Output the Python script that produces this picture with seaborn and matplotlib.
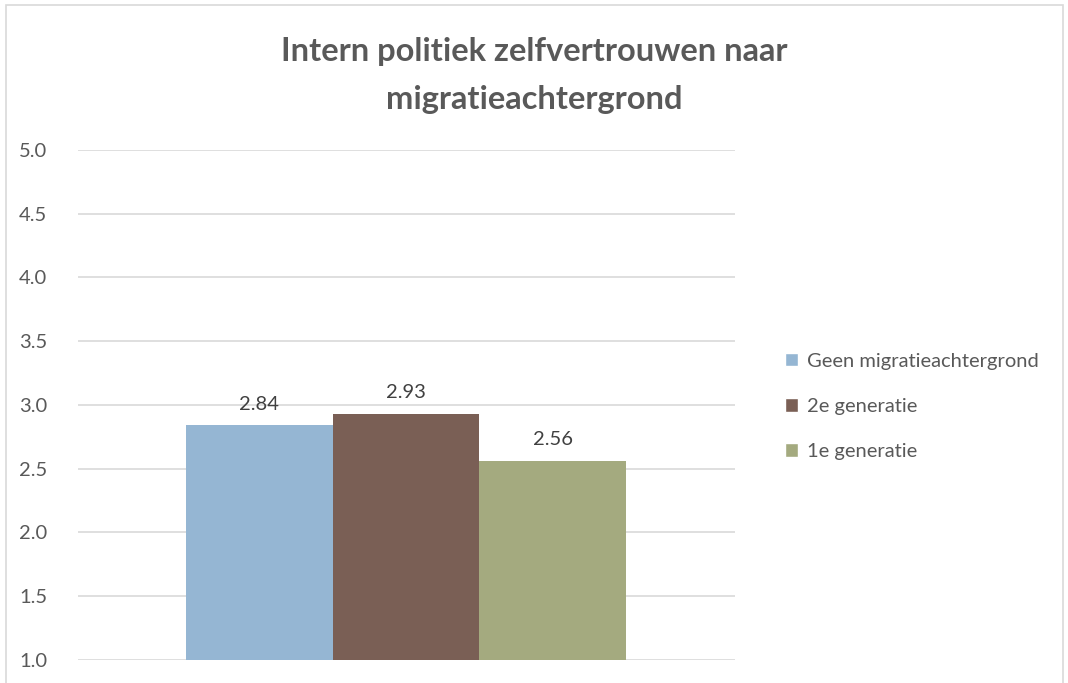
import pandas as pd
import matplotlib.pyplot as plt
import seaborn as sns
from matplotlib.patches import Rectangle

groups = ["Geen migratieachtergrond", "2e generatie", "1e generatie"]
scores = [2.84, 2.93, 2.56]
colors = ["#95b6d3", "#7a5f55", "#a4aa7f"]
yticks = [1.0, 1.5, 2.0, 2.5, 3.0, 3.5, 4.0, 4.5, 5.0]

df = pd.DataFrame({"groep": groups, "score": scores})

sns.set_theme(style="white")
plt.rcParams["font.family"] = ["Lato", "DejaVu Sans"]

fig = plt.figure(figsize=(10.68, 6.83), dpi=100)
ax = fig.add_axes([0.073, 0.0337, 0.615, 0.7467])

sns.barplot(data=df, x="groep", y="score", hue="groep", palette=colors,
            width=1.0, saturation=1, legend=False, ax=ax, zorder=3, linewidth=0)

ax.set_ylim(1.0, 5.0)
ax.set_yticks(yticks)
ax.set_yticklabels([f"{t:.1f}" for t in yticks], fontsize=14.5, color="#595959")
ax.set_xlim(-1.236, 3.243)
ax.set_xticks([])
ax.set_xlabel("")
ax.set_ylabel("")
ax.tick_params(axis="y", length=0, pad=22)
ax.yaxis.grid(True, color="#d9d9d9", linewidth=1.2, zorder=0)
for s in ax.spines.values():
    s.set_visible(False)

for i, v in enumerate(scores):
    ax.text(i, v + 0.1, f"{v:.2f}", ha="center", va="bottom",
            fontsize=14.5, color="#404040")

fig.text(0.5, 0.925, "Intern politiek zelfvertrouwen naar", ha="center", va="center",
         fontsize=23.5, fontweight="bold", color="#595959")
fig.text(0.5, 0.855, "migratieachtergrond", ha="center", va="center",
         fontsize=23.5, fontweight="bold", color="#595959")

handles = [Rectangle((0, 0), 1, 1, facecolor=c) for c in colors]
fig.legend(handles, groups, loc="center left", bbox_to_anchor=(0.718, 0.405),
           frameon=False, fontsize=14.5, labelcolor="#595959",
           handlelength=0.65, handleheight=0.65, handletextpad=0.45, labelspacing=1.4)

fig.patches.append(Rectangle((0.006, -0.01), 0.989, 1.003, transform=fig.transFigure,
                             fill=False, edgecolor="#d9d9d9", linewidth=1.2))

fig.savefig("out.png", dpi=100)
